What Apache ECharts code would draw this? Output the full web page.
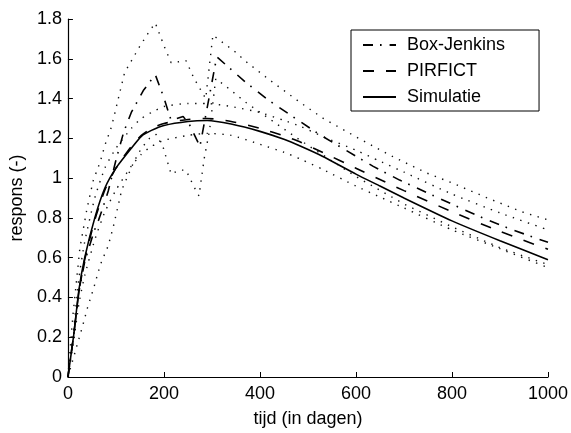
<!DOCTYPE html>
<html>
<head>
<meta charset="utf-8">
<script src="https://cdn.jsdelivr.net/npm/echarts@6/dist/echarts.min.js"></script>
<style>html,body{margin:0;padding:0;background:#fff}#c{width:571px;height:433px}</style>
</head>
<body>
<div id="c"></div>
<script>
// x-axis tick values
var xTicks = [0, 200, 400, 600, 800, 1000];
var yTicks = [0, 0.2, 0.4, 0.6, 0.8, 1, 1.2, 1.4, 1.6, 1.8];

// Simulatie + PIRFICT (with bands) share one x grid
var xSmooth = [0, 12, 23, 35, 56, 77, 100, 132, 153, 174, 200, 250, 290, 340, 400, 450, 485, 530, 600, 650, 700, 800, 900, 1000];
var simulatie = [0, 0.21, 0.44, 0.60, 0.80, 0.95, 1.05, 1.15, 1.21, 1.24, 1.265, 1.285, 1.29, 1.272, 1.235, 1.195, 1.16, 1.11, 1.02, 0.96, 0.90, 0.785, 0.685, 0.59];
var pirfict = [0, 0.21, 0.43, 0.59, 0.79, 0.94, 1.05, 1.16, 1.215, 1.25, 1.275, 1.295, 1.30, 1.285, 1.25, 1.212, 1.18, 1.13, 1.05, 0.993, 0.937, 0.831, 0.732, 0.642];
var pirfictUpper = [0, 0.24, 0.50, 0.68, 0.90, 1.05, 1.15, 1.25, 1.30, 1.33, 1.36, 1.375, 1.375, 1.36, 1.33, 1.29, 1.26, 1.21, 1.14, 1.085, 1.03, 0.92, 0.825, 0.74];
var pirfictLower = [0, 0.18, 0.37, 0.51, 0.69, 0.83, 0.94, 1.06, 1.12, 1.16, 1.19, 1.215, 1.225, 1.215, 1.17, 1.13, 1.095, 1.045, 0.96, 0.905, 0.85, 0.74, 0.645, 0.55];

// Box-Jenkins
var xBJ = [0, 12, 23, 35, 54, 64, 74, 84, 100, 116, 132, 157, 182, 199, 215, 240, 253, 275, 310, 371, 419, 474, 526, 636, 691, 810, 867, 927, 1000];
var boxJenkins = [0, 0.21, 0.43, 0.58, 0.73, 0.79, 0.86, 0.935, 1.09, 1.23, 1.33, 1.44, 1.52, 1.41, 1.29, 1.31, 1.27, 1.16, 1.61, 1.48, 1.39, 1.30, 1.216, 1.059, 0.99, 0.858, 0.797, 0.739, 0.677];

var xBJUpper = [0, 10, 25, 40, 53, 67, 77, 91, 105, 118, 149, 170, 182, 201, 215, 246, 263, 287, 302, 312, 346, 374, 422, 484, 532, 602, 675, 747, 799, 874, 946, 1000];
var bjUpper = [0, 0.30, 0.65, 0.85, 0.99, 1.08, 1.165, 1.26, 1.40, 1.53, 1.66, 1.74, 1.78, 1.66, 1.58, 1.59, 1.50, 1.40, 1.72, 1.70, 1.64, 1.58, 1.49, 1.38, 1.30, 1.205, 1.11, 1.026, 0.977, 0.90, 0.83, 0.79];

var xBJLower = [0, 31, 41, 54, 64, 70, 84, 95, 112, 137, 153, 170, 184, 199, 215, 232, 246, 263, 273, 284, 295, 308, 330, 371, 484, 602, 700, 800, 900, 1000];
var bjLower = [0, 0.26, 0.35, 0.45, 0.535, 0.58, 0.66, 0.76, 0.94, 1.08, 1.15, 1.20, 1.22, 1.15, 1.02, 1.04, 1.04, 0.955, 0.91, 1.10, 1.24, 1.50, 1.46, 1.38, 1.19, 1.005, 0.87, 0.755, 0.65, 0.565];

var legendNames = ['Box-Jenkins', 'PIRFICT', 'Simulatie'];

function pairs(xs, ys) { return xs.map(function (x, i) { return [x, ys[i]]; }); }

var FONT = 'Liberation Sans';
var dotStyle = { color: '#111', width: 1.4, type: [1.4, 6.5] };

function band(name, xs, ys, smooth) {
  return { name: name, type: 'line', data: pairs(xs, ys), showSymbol: false, symbol: 'none',
    smooth: smooth || false, lineStyle: dotStyle, z: 1, silent: true };
}

var chart = echarts.init(document.getElementById('c'), null, { renderer: 'canvas' });
chart.setOption({
  animation: false,
  backgroundColor: '#fff',
  textStyle: { fontFamily: FONT },
  grid: { left: 66, right: 22, top: 19, bottom: 51, containLabel: false },
  legend: {
    data: legendNames,
    orient: 'vertical',
    left: 351, top: 30,
    padding: [6, 34, 5, 11],
    itemWidth: 33, itemHeight: 14, itemGap: 8,
    borderColor: '#000', borderWidth: 1, backgroundColor: '#fff',
    itemStyle: { opacity: 0, borderWidth: 0 },
    textStyle: { fontFamily: FONT, fontSize: 18, color: '#000', padding: [0, 0, 0, 6] }
  },
  xAxis: {
    type: 'value', min: 0, max: 1000, interval: 200,
    name: 'tijd (in dagen)', nameLocation: 'middle', nameGap: 33,
    nameTextStyle: { fontFamily: FONT, fontSize: 18, color: '#000' },
    axisLine: { lineStyle: { color: '#000', width: 1.2 } },
    axisTick: { inside: true, length: 5, lineStyle: { color: '#000' } },
    axisLabel: { fontFamily: FONT, fontSize: 18, color: '#000', margin: 8,
      formatter: function (v) { return String(v); } },
    splitLine: { show: false }
  },
  yAxis: {
    type: 'value', min: 0, max: 1.8, interval: 0.2,
    name: 'respons (-)', nameLocation: 'middle', nameGap: 40,
    nameTextStyle: { fontFamily: FONT, fontSize: 18, color: '#000' },
    axisLine: { show: true, lineStyle: { color: '#000', width: 1.2 } },
    axisTick: { show: true, inside: true, length: 5, lineStyle: { color: '#000' } },
    axisLabel: { fontFamily: FONT, fontSize: 18, color: '#000', margin: 6,
      formatter: function (v) { return String(Math.round(v * 10) / 10); } },
    splitLine: { show: false }
  },
  series: [
    band('BJ boven', xBJUpper, bjUpper),
    band('BJ onder', xBJLower, bjLower),
    band('PIRFICT boven', xSmooth, pirfictUpper, 0.2),
    band('PIRFICT onder', xSmooth, pirfictLower, 0.2),
    { name: 'Box-Jenkins', type: 'line', data: pairs(xBJ, boxJenkins), symbol: 'none', showSymbol: false,
      lineStyle: { color: '#000', width: 1.6, type: [10, 7, 1.6, 8] }, itemStyle: { color: '#000' }, z: 3 },
    { name: 'PIRFICT', type: 'line', data: pairs(xSmooth, pirfict), symbol: 'none', showSymbol: false, smooth: 0.2,
      lineStyle: { color: '#000', width: 1.6, type: [11, 12] }, itemStyle: { color: '#000' }, z: 3 },
    { name: 'Simulatie', type: 'line', data: pairs(xSmooth, simulatie), symbol: 'none', showSymbol: false, smooth: 0.2,
      lineStyle: { color: '#000', width: 1.6, type: 'solid' }, itemStyle: { color: '#000' }, z: 4 }
  ]
});
</script>
</body>
</html>
